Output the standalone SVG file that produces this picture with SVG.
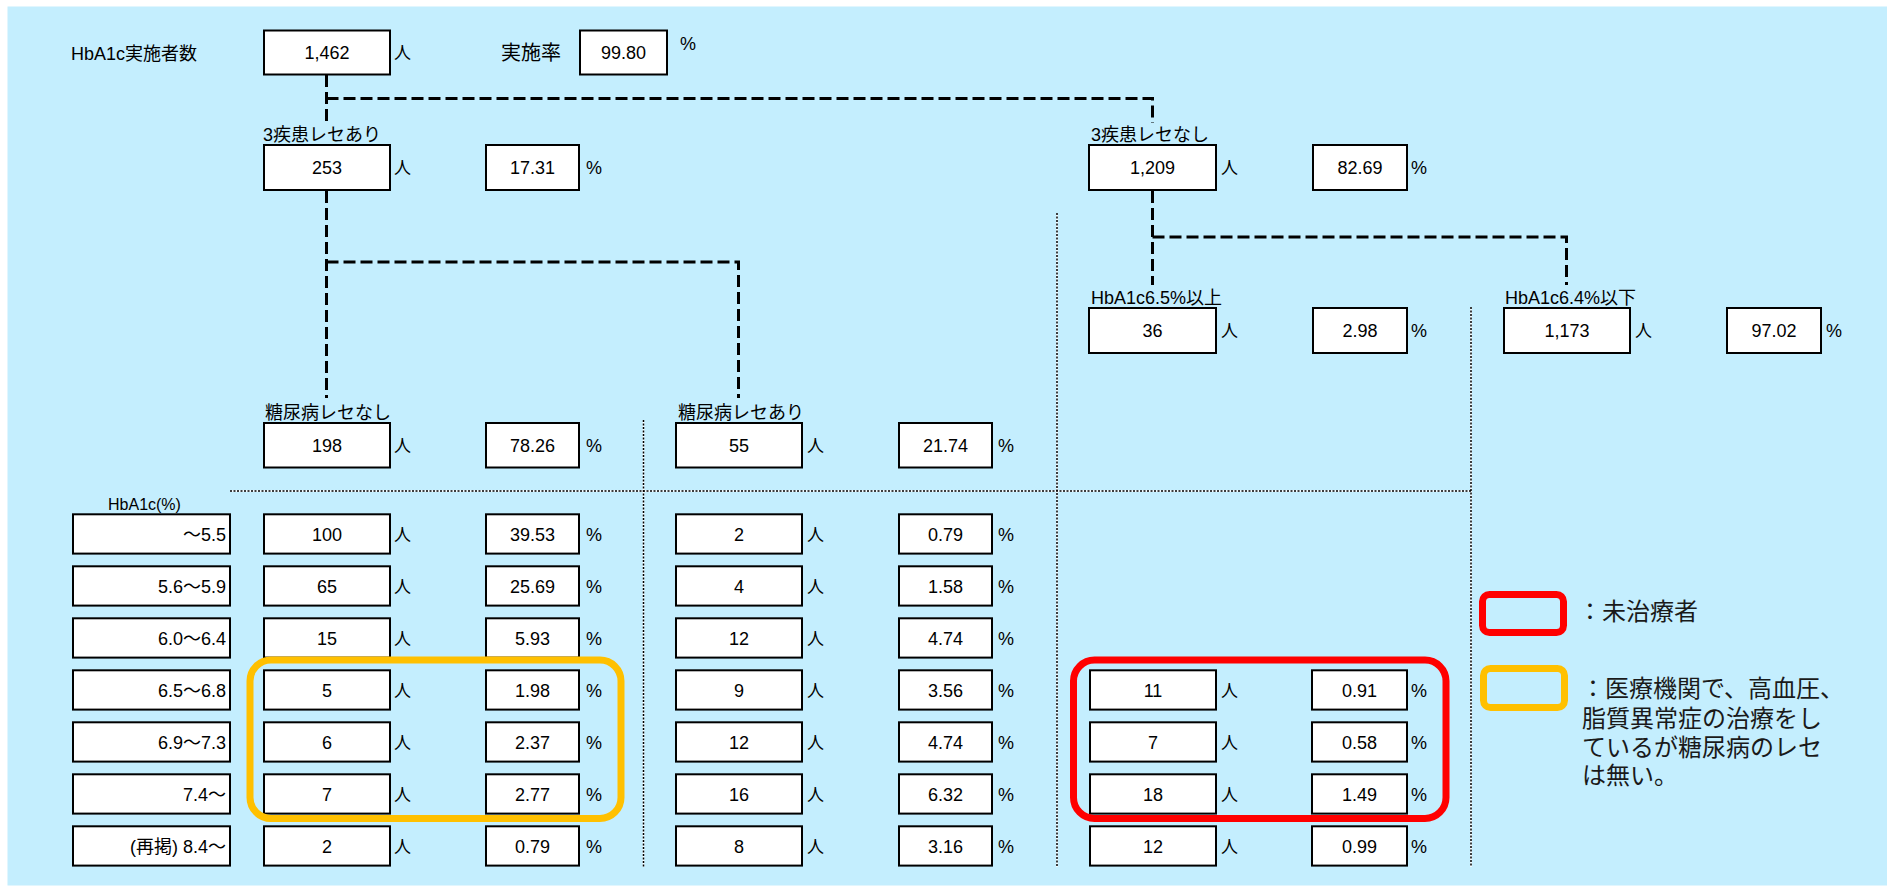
<svg xmlns="http://www.w3.org/2000/svg" width="1887" height="886" viewBox="0 0 1887 886">
<style>
.bg{fill:#C4EEFE}
.box{fill:#fff;stroke:#000;stroke-width:2}
text{font-family:"Liberation Sans","Noto Sans CJK JP",sans-serif;fill:#000}
.num{font-size:18px;text-anchor:middle}
.lbl{font-size:18px}
.unit{font-size:17px}
.pc{font-size:18px}
.rl{font-size:18px;text-anchor:end}
.leg{font-size:24px;fill:#1a1a1a}
.conn{fill:none;stroke:#000;stroke-width:3;stroke-dasharray:12 5}
.sepw{fill:none;stroke:#fff;stroke-width:1.5}
.sep{fill:none;stroke:#000;stroke-width:1.5;stroke-dasharray:2 1.5}
.hl{fill:none;stroke-width:7}
</style>
<rect class="bg" x="7.5" y="6.5" width="1880" height="879"/>

<g id="separators">
<path class="sepw" d="M230,491H1471M643.5,420V867M1057,213V867M1471,307V867"/>
<path class="sep" d="M230,491H1471M643.5,420V867M1057,213V867M1471,307V867"/>
</g>

<g id="connectors">
<path class="conn" d="M326.5,75V124M326.5,98.5H1152.5V123"/>
<path class="conn" d="M326.5,191V398M326.5,262H738.5V398"/>
<path class="conn" d="M1152.5,191V285M1152.5,237H1566.5V285"/>
</g>

<g id="n-total">
<text class="lbl" x="71" y="59.5">HbA1c実施者数</text>
<rect class="box" x="264" y="30.5" width="126" height="44"/>
<text class="num" x="327" y="58.7">1,462</text>
<text class="unit" x="394" y="59">人</text>
</g>
<g id="n-rate">
<text class="lbl" style="font-size:20px" x="501" y="60">実施率</text>
<rect class="box" x="580" y="30.5" width="87" height="44"/>
<text class="num" x="623.5" y="58.7">99.80</text>
<text class="pc" x="680" y="50">%</text>
</g>

<g id="n-3yes">
<text class="lbl" x="263" y="141">3疾患レセあり</text>
<rect class="box" x="264" y="145" width="126" height="45"/>
<text class="num" x="327" y="173.8">253</text>
<text class="unit" x="394" y="174">人</text>
<rect class="box" x="486" y="145" width="93" height="45"/>
<text class="num" x="532.5" y="173.8">17.31</text>
<text class="pc" x="586" y="174">%</text>
</g>

<g id="n-3no">
<text class="lbl" x="1091" y="141">3疾患レセなし</text>
<rect class="box" x="1089" y="145" width="127" height="45"/>
<text class="num" x="1152.5" y="173.8">1,209</text>
<text class="unit" x="1221" y="174">人</text>
<rect class="box" x="1313" y="145" width="94" height="45"/>
<text class="num" x="1360" y="173.8">82.69</text>
<text class="pc" x="1411" y="174">%</text>
</g>

<g id="n-hb65">
<text class="lbl" x="1091" y="304">HbA1c6.5%以上</text>
<rect class="box" x="1089" y="308" width="127" height="45"/>
<text class="num" x="1152.5" y="337">36</text>
<text class="unit" x="1221" y="337">人</text>
<rect class="box" x="1313" y="308" width="94" height="45"/>
<text class="num" x="1360" y="337">2.98</text>
<text class="pc" x="1411" y="337">%</text>
</g>

<g id="n-hb64">
<text class="lbl" x="1505" y="304">HbA1c6.4%以下</text>
<rect class="box" x="1504" y="308" width="126" height="45"/>
<text class="num" x="1567" y="337">1,173</text>
<text class="unit" x="1635" y="337">人</text>
<rect class="box" x="1727" y="308" width="94" height="45"/>
<text class="num" x="1774" y="337">97.02</text>
<text class="pc" x="1826" y="337">%</text>
</g>

<g id="n-dm-no">
<text class="lbl" x="265" y="419">糖尿病レセなし</text>
<rect class="box" x="264" y="423" width="126" height="44.5"/>
<text class="num" x="327" y="451.5">198</text>
<text class="unit" x="394" y="451.5">人</text>
<rect class="box" x="486" y="423" width="93" height="44.5"/>
<text class="num" x="532.5" y="451.5">78.26</text>
<text class="pc" x="586" y="451.5">%</text>
</g>

<g id="n-dm-yes">
<text class="lbl" x="678" y="419">糖尿病レセあり</text>
<rect class="box" x="676" y="423" width="126" height="44.5"/>
<text class="num" x="739" y="451.5">55</text>
<text class="unit" x="807" y="451.5">人</text>
<rect class="box" x="899" y="423" width="93" height="44.5"/>
<text class="num" x="945.5" y="451.5">21.74</text>
<text class="pc" x="998" y="451.5">%</text>
</g>

<g id="table-header">
<text style="font-size:16px" x="108" y="510">HbA1c(%)</text>
</g>

<g id="row1">
<rect class="box" x="73" y="514.3" width="157" height="39.3"/>
<text class="rl" x="226" y="540.5">～5.5</text>
<rect class="box" x="264" y="514.3" width="126" height="39.3"/>
<text class="num" x="327" y="540.5">100</text>
<text class="unit" x="394" y="540.5">人</text>
<rect class="box" x="486" y="514.3" width="93" height="39.3"/>
<text class="num" x="532.5" y="540.5">39.53</text>
<text class="pc" x="586" y="540.5">%</text>
<rect class="box" x="676" y="514.3" width="126" height="39.3"/>
<text class="num" x="739" y="540.5">2</text>
<text class="unit" x="807" y="540.5">人</text>
<rect class="box" x="899" y="514.3" width="93" height="39.3"/>
<text class="num" x="945.5" y="540.5">0.79</text>
<text class="pc" x="998" y="540.5">%</text>
</g>

<g id="row2">
<rect class="box" x="73" y="566.3" width="157" height="39.3"/>
<text class="rl" x="226" y="592.5">5.6～5.9</text>
<rect class="box" x="264" y="566.3" width="126" height="39.3"/>
<text class="num" x="327" y="592.5">65</text>
<text class="unit" x="394" y="592.5">人</text>
<rect class="box" x="486" y="566.3" width="93" height="39.3"/>
<text class="num" x="532.5" y="592.5">25.69</text>
<text class="pc" x="586" y="592.5">%</text>
<rect class="box" x="676" y="566.3" width="126" height="39.3"/>
<text class="num" x="739" y="592.5">4</text>
<text class="unit" x="807" y="592.5">人</text>
<rect class="box" x="899" y="566.3" width="93" height="39.3"/>
<text class="num" x="945.5" y="592.5">1.58</text>
<text class="pc" x="998" y="592.5">%</text>
</g>

<g id="row3">
<rect class="box" x="73" y="618.3" width="157" height="39.3"/>
<text class="rl" x="226" y="644.5">6.0～6.4</text>
<rect class="box" x="264" y="618.3" width="126" height="39.3"/>
<text class="num" x="327" y="644.5">15</text>
<text class="unit" x="394" y="644.5">人</text>
<rect class="box" x="486" y="618.3" width="93" height="39.3"/>
<text class="num" x="532.5" y="644.5">5.93</text>
<text class="pc" x="586" y="644.5">%</text>
<rect class="box" x="676" y="618.3" width="126" height="39.3"/>
<text class="num" x="739" y="644.5">12</text>
<text class="unit" x="807" y="644.5">人</text>
<rect class="box" x="899" y="618.3" width="93" height="39.3"/>
<text class="num" x="945.5" y="644.5">4.74</text>
<text class="pc" x="998" y="644.5">%</text>
</g>

<g id="row4">
<rect class="box" x="73" y="670.3" width="157" height="39.3"/>
<text class="rl" x="226" y="696.5">6.5～6.8</text>
<rect class="box" x="264" y="670.3" width="126" height="39.3"/>
<text class="num" x="327" y="696.5">5</text>
<text class="unit" x="394" y="696.5">人</text>
<rect class="box" x="486" y="670.3" width="93" height="39.3"/>
<text class="num" x="532.5" y="696.5">1.98</text>
<text class="pc" x="586" y="696.5">%</text>
<rect class="box" x="676" y="670.3" width="126" height="39.3"/>
<text class="num" x="739" y="696.5">9</text>
<text class="unit" x="807" y="696.5">人</text>
<rect class="box" x="899" y="670.3" width="93" height="39.3"/>
<text class="num" x="945.5" y="696.5">3.56</text>
<text class="pc" x="998" y="696.5">%</text>
<rect class="box" x="1090" y="670.3" width="126" height="39.3"/>
<text class="num" x="1153" y="696.5">11</text>
<text class="unit" x="1221" y="696.5">人</text>
<rect class="box" x="1312" y="670.3" width="95" height="39.3"/>
<text class="num" x="1359.5" y="696.5">0.91</text>
<text class="pc" x="1411" y="696.5">%</text>
</g>

<g id="row5">
<rect class="box" x="73" y="722.3" width="157" height="39.3"/>
<text class="rl" x="226" y="748.5">6.9～7.3</text>
<rect class="box" x="264" y="722.3" width="126" height="39.3"/>
<text class="num" x="327" y="748.5">6</text>
<text class="unit" x="394" y="748.5">人</text>
<rect class="box" x="486" y="722.3" width="93" height="39.3"/>
<text class="num" x="532.5" y="748.5">2.37</text>
<text class="pc" x="586" y="748.5">%</text>
<rect class="box" x="676" y="722.3" width="126" height="39.3"/>
<text class="num" x="739" y="748.5">12</text>
<text class="unit" x="807" y="748.5">人</text>
<rect class="box" x="899" y="722.3" width="93" height="39.3"/>
<text class="num" x="945.5" y="748.5">4.74</text>
<text class="pc" x="998" y="748.5">%</text>
<rect class="box" x="1090" y="722.3" width="126" height="39.3"/>
<text class="num" x="1153" y="748.5">7</text>
<text class="unit" x="1221" y="748.5">人</text>
<rect class="box" x="1312" y="722.3" width="95" height="39.3"/>
<text class="num" x="1359.5" y="748.5">0.58</text>
<text class="pc" x="1411" y="748.5">%</text>
</g>

<g id="row6">
<rect class="box" x="73" y="774.3" width="157" height="39.3"/>
<text class="rl" x="226" y="800.5">7.4～</text>
<rect class="box" x="264" y="774.3" width="126" height="39.3"/>
<text class="num" x="327" y="800.5">7</text>
<text class="unit" x="394" y="800.5">人</text>
<rect class="box" x="486" y="774.3" width="93" height="39.3"/>
<text class="num" x="532.5" y="800.5">2.77</text>
<text class="pc" x="586" y="800.5">%</text>
<rect class="box" x="676" y="774.3" width="126" height="39.3"/>
<text class="num" x="739" y="800.5">16</text>
<text class="unit" x="807" y="800.5">人</text>
<rect class="box" x="899" y="774.3" width="93" height="39.3"/>
<text class="num" x="945.5" y="800.5">6.32</text>
<text class="pc" x="998" y="800.5">%</text>
<rect class="box" x="1090" y="774.3" width="126" height="39.3"/>
<text class="num" x="1153" y="800.5">18</text>
<text class="unit" x="1221" y="800.5">人</text>
<rect class="box" x="1312" y="774.3" width="95" height="39.3"/>
<text class="num" x="1359.5" y="800.5">1.49</text>
<text class="pc" x="1411" y="800.5">%</text>
</g>

<g id="row7">
<rect class="box" x="73" y="826.3" width="157" height="39.3"/>
<text class="rl" x="226" y="852.5">(再掲) 8.4～</text>
<rect class="box" x="264" y="826.3" width="126" height="39.3"/>
<text class="num" x="327" y="852.5">2</text>
<text class="unit" x="394" y="852.5">人</text>
<rect class="box" x="486" y="826.3" width="93" height="39.3"/>
<text class="num" x="532.5" y="852.5">0.79</text>
<text class="pc" x="586" y="852.5">%</text>
<rect class="box" x="676" y="826.3" width="126" height="39.3"/>
<text class="num" x="739" y="852.5">8</text>
<text class="unit" x="807" y="852.5">人</text>
<rect class="box" x="899" y="826.3" width="93" height="39.3"/>
<text class="num" x="945.5" y="852.5">3.16</text>
<text class="pc" x="998" y="852.5">%</text>
<rect class="box" x="1090" y="826.3" width="126" height="39.3"/>
<text class="num" x="1153" y="852.5">12</text>
<text class="unit" x="1221" y="852.5">人</text>
<rect class="box" x="1312" y="826.3" width="95" height="39.3"/>
<text class="num" x="1359.5" y="852.5">0.99</text>
<text class="pc" x="1411" y="852.5">%</text>
</g>

<g id="highlight-orange">
<rect class="hl" stroke="#FFC000" x="250" y="660" width="371" height="158.5" rx="21"/>
</g>
<g id="highlight-red">
<rect class="hl" stroke="#FF0000" x="1073.5" y="660" width="372.5" height="158.5" rx="21"/>
</g>

<g id="legend-red">
<rect class="hl" stroke="#FF0000" x="1482.5" y="594.5" width="81" height="38" rx="7"/>
<text class="leg" x="1578" y="620">：未治療者</text>
</g>
<g id="legend-orange">
<rect class="hl" stroke="#FFC000" x="1483.5" y="668.5" width="81" height="39" rx="7"/>
<text class="leg" x="1581" y="697">：医療機関で、高血圧、</text>
<text class="leg" x="1582" y="727">脂質異常症の治療をし</text>
<text class="leg" x="1582" y="756">ているが糖尿病のレセ</text>
<text class="leg" x="1582" y="784">は無い。</text>
</g>
</svg>
